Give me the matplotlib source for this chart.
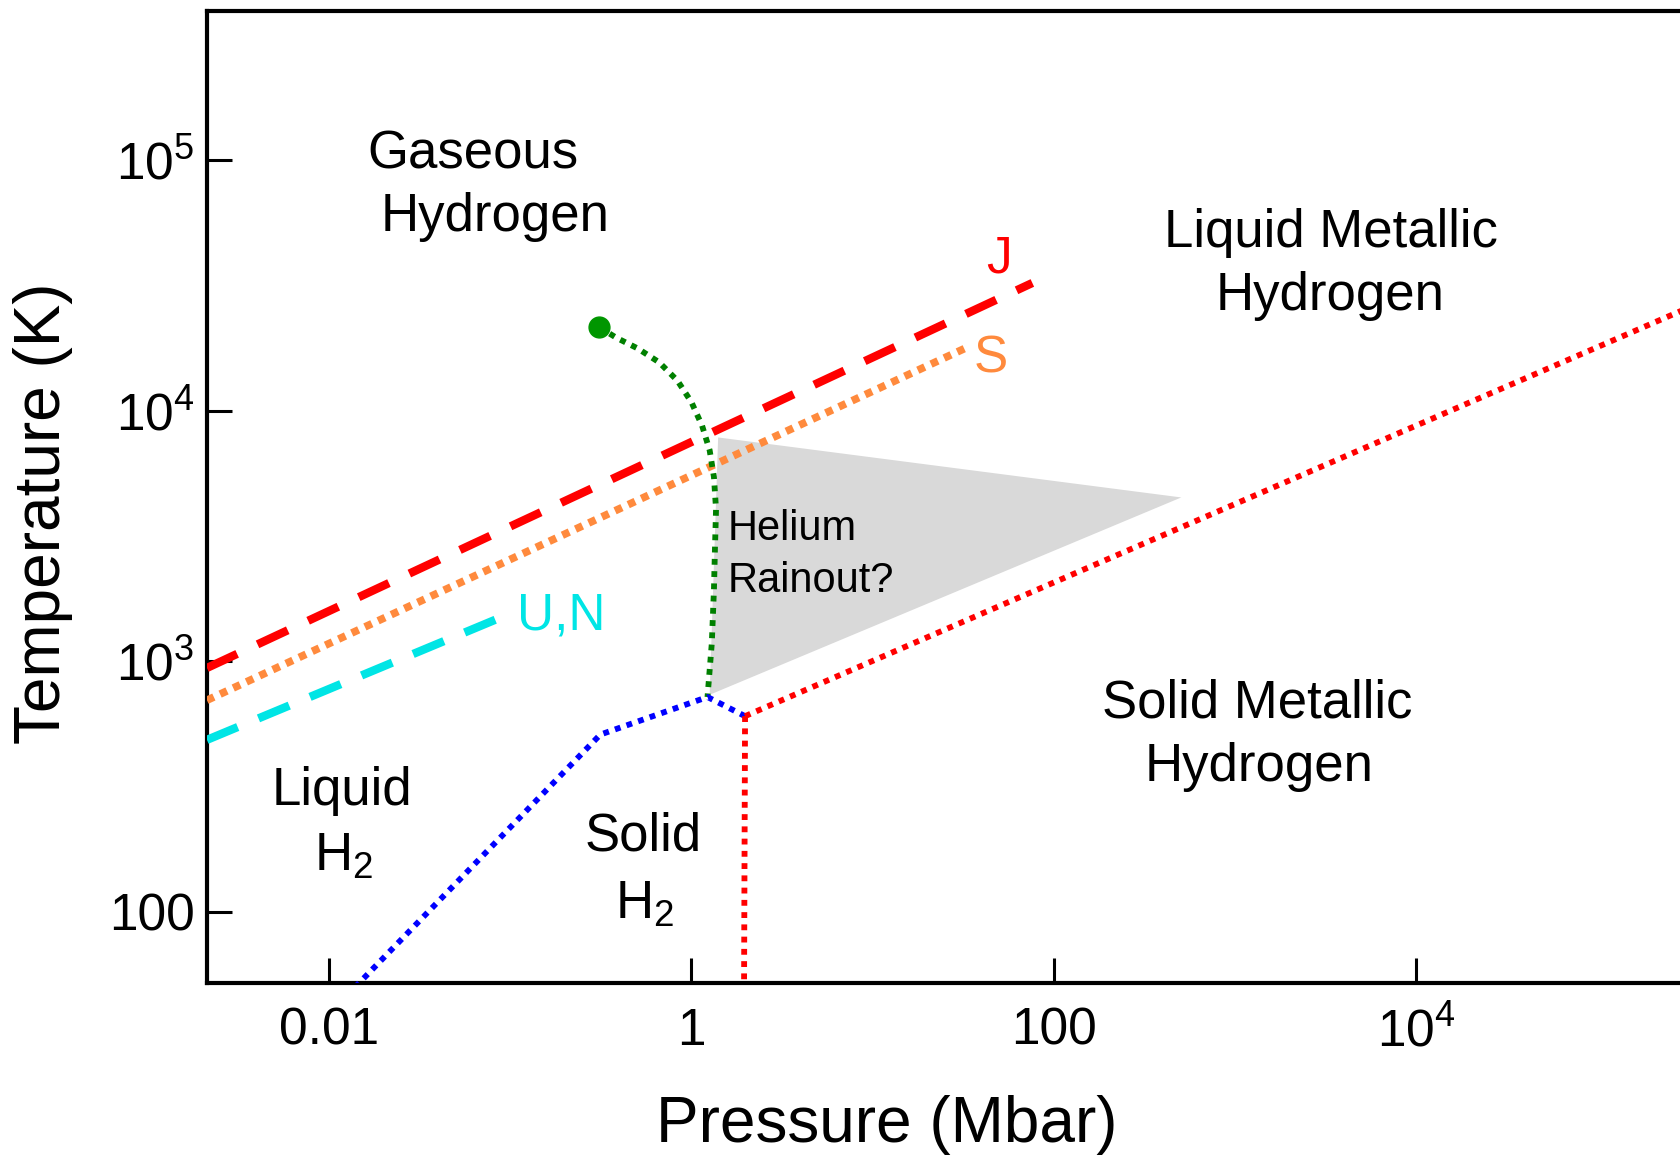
import matplotlib
matplotlib.use('Agg')
import matplotlib.pyplot as plt

plt.rcParams['font.family'] = ['Liberation Sans', 'DejaVu Sans']
plt.rcParams['mathtext.fontset'] = 'custom'
plt.rcParams['mathtext.rm'] = 'Liberation Sans'
plt.rcParams['mathtext.default'] = 'regular'

# axis ranges (Mbar, K)
P_LIM = (2.13e-3, 2.90e5)
T_LIM = (51.8, 3.94e5)

x_ticks = [0.01, 1, 100, 1e4]
x_tick_labels = ['0.01', '1', '100', r'$10^{4}$']
y_ticks = [100, 1e3, 1e4, 1e5]
y_tick_labels = ['100', r'$10^{3}$', r'$10^{4}$', r'$10^{5}$']

# planetary adiabats
jupiter_p = [2.13e-3, 76.4]
jupiter_t = [939, 32300]
saturn_p = [2.13e-3, 32.4]
saturn_t = [698, 17700]
uranus_p = [2.13e-3, 0.083]
uranus_t = [485, 1462]

# liquid-liquid (plasma) transition, ends at critical point
crit_p = [0.311]
crit_t = [21500]
llpt_p = [0.311, 0.387, 0.508, 0.667, 0.841, 1.004, 1.150, 1.266, 1.337, 1.373, 1.355, 1.337, 1.301, 1.232]
llpt_t = [21500, 19520, 17690, 15570, 13160, 10810, 8700, 6940, 5425, 4036, 2858, 1928, 1178, 719]

# melting line of H2
melt_p = [0.014, 0.3155, 1.232, 1.985]
melt_t = [50, 509, 719, 603]

# solid molecular / solid metallic boundary
solid_p = [1.985, 1.96]
solid_t = [603, 50]

# metallic melting line
metal_p = [1.985, 2.90e5]
metal_t = [603, 24980]

# helium rainout region
he_p = [1.41, 507, 1.266]
he_t = [7810, 4500, 734]

fig = plt.figure(figsize=(16.81, 11.58), dpi=100)
ax = fig.add_axes([0.1231, 0.1509, 0.8769, 0.8398])

ax.fill(he_p, he_t, color='#d9d9d9', lw=0, zorder=1)

ax.plot(jupiter_p, jupiter_t, color='#ff0000', lw=6, dashes=(4.0, 2.7), dash_capstyle='butt', zorder=3)
ax.plot(saturn_p, saturn_t, color='#ff8a3d', lw=5.5, dashes=(1.0, 0.9), dash_capstyle='butt', zorder=3)
ax.plot(uranus_p, uranus_t, color='#00e5e5', lw=6, dashes=(4.0, 2.7), dash_capstyle='butt', zorder=3)

ax.plot(llpt_p, llpt_t, color='#008000', lw=4.2, dashes=(1.0, 1.1), dash_capstyle='butt', zorder=4)
ax.plot(crit_p, crit_t, 'o', color='#009600', ms=15, zorder=5)
ax.plot(melt_p, melt_t, color='#0000ff', lw=4.2, dashes=(1.0, 1.1), dash_capstyle='butt', zorder=4)
ax.plot(solid_p, solid_t, color='#ff0000', lw=4.2, dashes=(1.0, 1.1), dash_capstyle='butt', zorder=4)
ax.plot(metal_p, metal_t, color='#ff0000', lw=4.2, dashes=(1.0, 1.1), dash_capstyle='butt', zorder=4)

ax.set_xscale('log')
ax.set_yscale('log')
ax.set_xlim(P_LIM)
ax.set_ylim(T_LIM)
ax.set_xticks(x_ticks)
ax.set_xticklabels(x_tick_labels)
ax.set_yticks(y_ticks)
ax.set_yticklabels(y_tick_labels)
ax.minorticks_off()
ax.tick_params(direction='in', length=18, width=2.2, labelsize=37)
ax.tick_params(axis='x', pad=17)
ax.tick_params(axis='y', pad=9)
for s in ['left', 'bottom', 'top']:
    ax.spines[s].set_linewidth(3)
ax.spines['right'].set_visible(False)

ax.set_xlabel('Pressure (Mbar)', fontsize=46, va='center')
ax.xaxis.set_label_coords(0.461, -0.1455)
ax.set_ylabel('Temperature (K)', fontsize=46, va='center')
ax.yaxis.set_label_coords(-0.111, 0.483)

tr = ax.transAxes
big = 38
ax.text(0.1804, 0.8379, 'Gaseous', transform=tr, fontsize=big, ha='center', va='baseline')
ax.text(0.1956, 0.7740, 'Hydrogen', transform=tr, fontsize=big, ha='center', va='baseline')
ax.text(0.7622, 0.7574, 'Liquid Metallic', transform=tr, fontsize=big, ha='center', va='baseline')
ax.text(0.7622, 0.6924, 'Hydrogen', transform=tr, fontsize=big, ha='center', va='baseline')
ax.text(0.7127, 0.2734, 'Solid Metallic', transform=tr, fontsize=big, ha='center', va='baseline')
ax.text(0.7135, 0.2084, 'Hydrogen', transform=tr, fontsize=big, ha='center', va='baseline')
ax.text(0.0916, 0.1830, 'Liquid', transform=tr, fontsize=big, ha='center', va='baseline')
ax.text(0.0924, 0.1158, r'$H_2$', transform=tr, fontsize=big, ha='center', va='baseline')
ax.text(0.2960, 0.1367, 'Solid', transform=tr, fontsize=big, ha='center', va='baseline')
ax.text(0.2967, 0.0662, r'$H_2$', transform=tr, fontsize=big, ha='center', va='baseline')
ax.text(0.3535, 0.4553, 'Helium', transform=tr, fontsize=30, ha='left', va='baseline')
ax.text(0.3535, 0.4024, 'Rainout?', transform=tr, fontsize=30, ha='left', va='baseline')
ax.text(0.5375, 0.7310, 'J', transform=tr, fontsize=37, color='#ff0000', ha='center', va='baseline')
ax.text(0.5316, 0.6284, 'S', transform=tr, fontsize=37, color='#ff8a3d', ha='center', va='baseline')
ax.text(0.2102, 0.3638, 'U,N', transform=tr, fontsize=37, color='#00e5e5', ha='left', va='baseline')

fig.savefig('out.png', dpi=100)
